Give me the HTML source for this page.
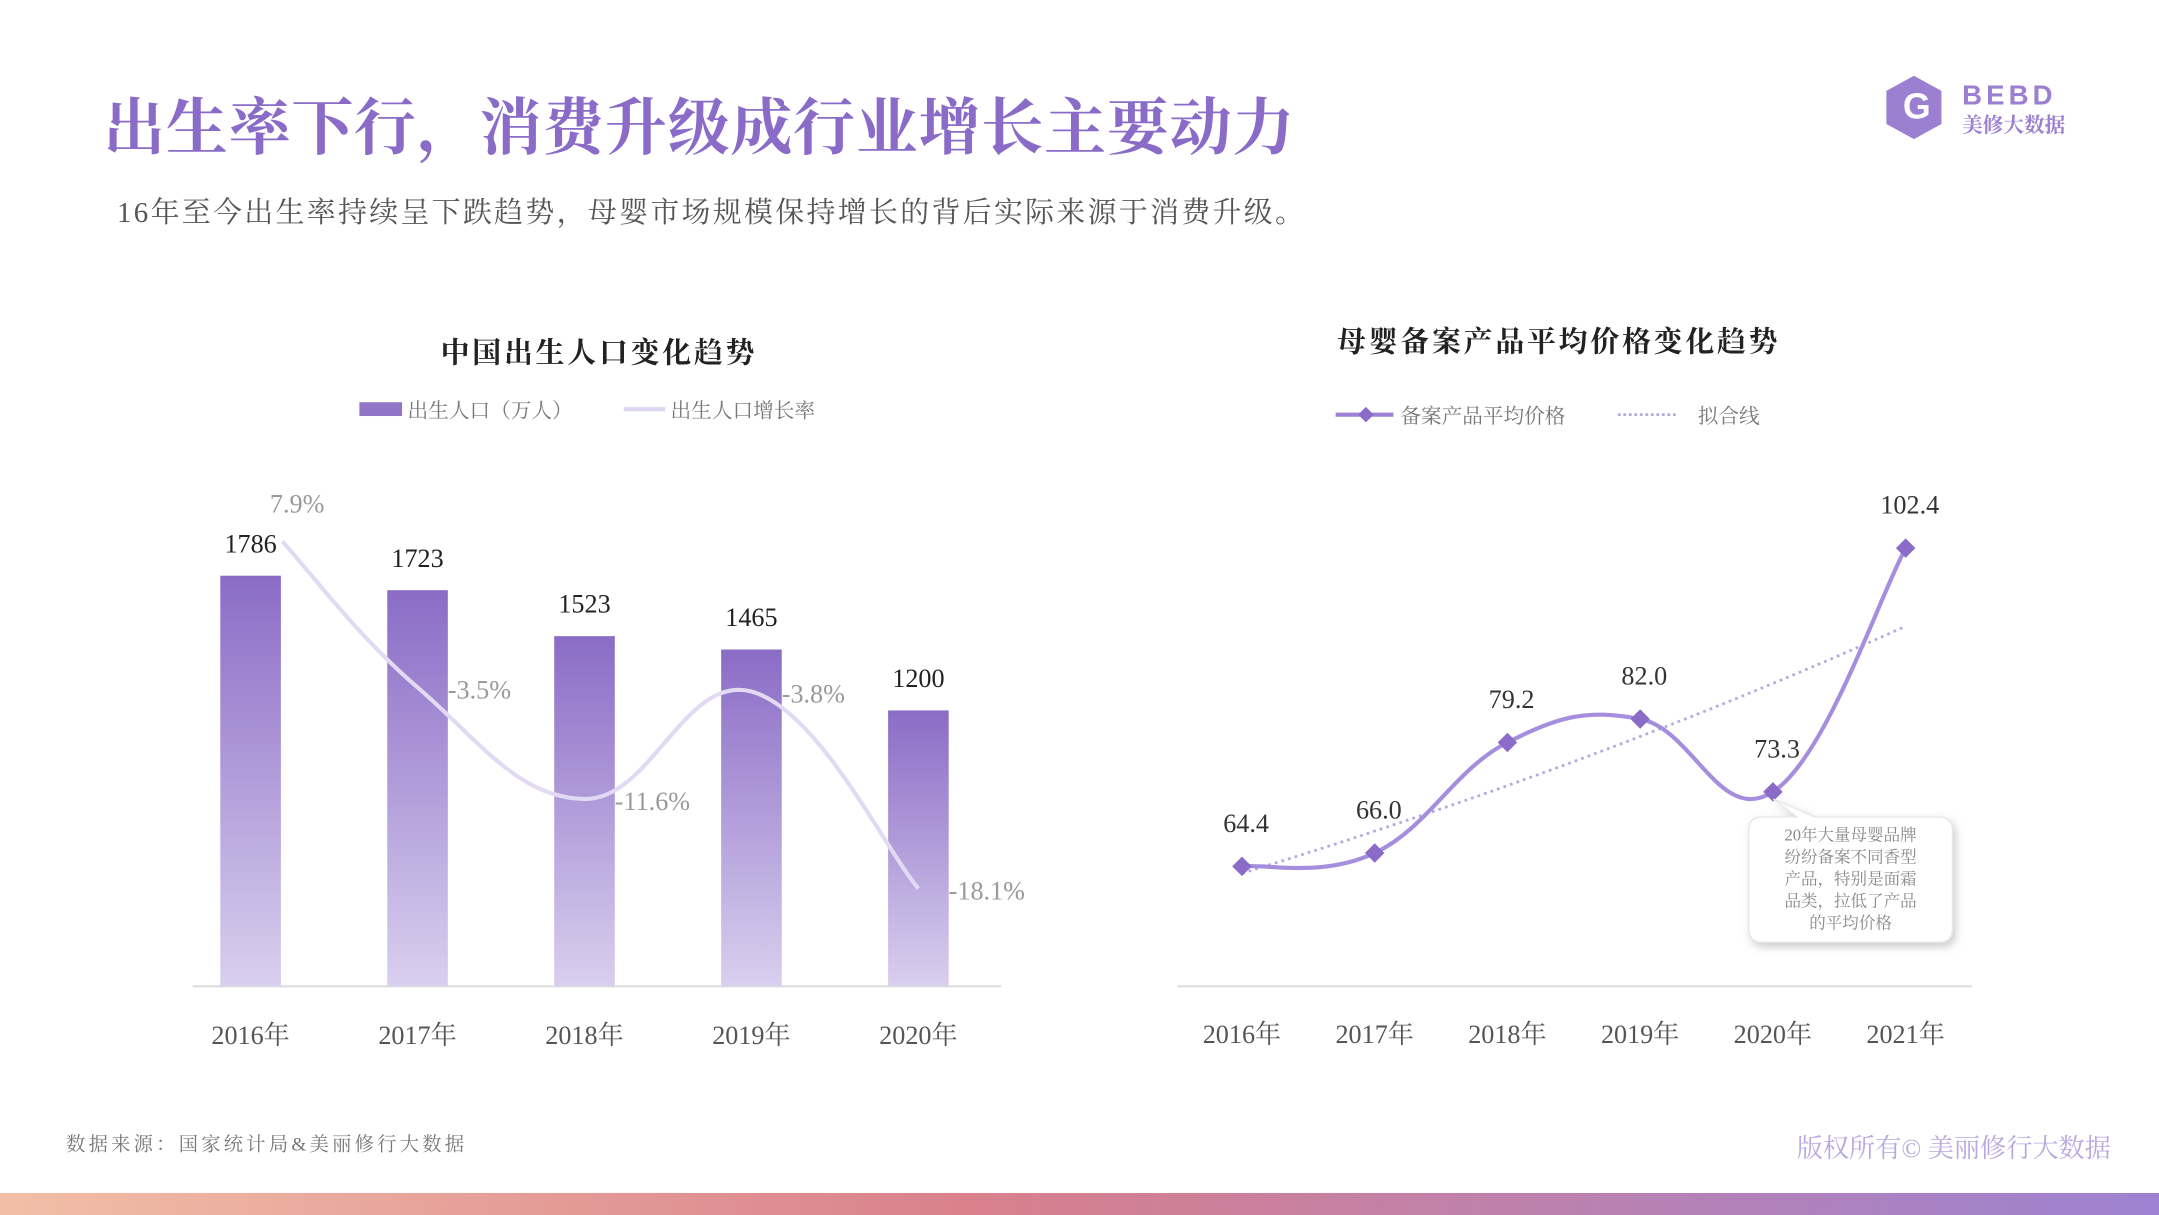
<!DOCTYPE html>
<html><head><meta charset="utf-8"><style>
html,body{margin:0;padding:0;background:#fff;}
svg{display:block;}
text{font-family:"Liberation Serif","Noto Serif CJK SC",serif;}
.sans{font-family:"Liberation Sans","Noto Sans CJK SC",sans-serif;}
</style></head><body>
<svg id="root" width="2159" height="1215" viewBox="0 0 1568 882" preserveAspectRatio="none" xmlns="http://www.w3.org/2000/svg">
<defs>
<linearGradient id="barg" x1="0" y1="0" x2="0" y2="1"><stop offset="0" stop-color="#8a6cc6"/><stop offset="1" stop-color="#d9cfee"/></linearGradient>
<linearGradient id="footg" x1="0" y1="0" x2="1" y2="0"><stop offset="0" stop-color="#f2bfa6"/><stop offset="0.45" stop-color="#d9808c"/><stop offset="1" stop-color="#9d82d2"/></linearGradient>
<filter id="sh" x="-20%" y="-20%" width="140%" height="140%"><feDropShadow dx="2" dy="3" stdDeviation="3" flood-color="#999" flood-opacity="0.5"/></filter>
</defs>
<text x="75" y="108" font-size="45" font-weight="bold" fill="#8a6cc8" textLength="865">出生率下行，消费升级成行业增长主要动力</text>
<text x="85" y="161" font-size="21" fill="#555" textLength="862">16年至今出生率持续呈下跌趋势，母婴市场规模保持增长的背后实际来源于消费升级。</text>
<g>
<polygon points="1390,55 1410,66 1410,90 1390,101 1370,90 1370,66" fill="#9b7fd0"/>
<text x="1382" y="86" font-size="26" font-weight="bold" fill="#fff" class="sans">G</text>
<text x="1425" y="76" font-size="20" font-weight="bold" fill="#9b7fd0" letter-spacing="3" class="sans">BEBD</text>
<text x="1425" y="96" font-size="15" font-weight="bold" fill="#9b7fd0">美修大数据</text>
</g>
<text x="434" y="263" font-size="21" font-weight="bold" fill="#222" text-anchor="middle" textLength="228">中国出生人口变化趋势</text>
<g>
<rect x="261" y="292" width="31" height="10" fill="#8f74c8"/>
<text x="296" y="303" font-size="15" fill="#777">出生人口（万人）</text>
<line x1="453" y1="297" x2="483" y2="297" stroke="#ddd5ef" stroke-width="3"/>
<text x="487" y="303" font-size="15" fill="#777">出生人口增长率</text>
</g>
<text x="1131" y="255" font-size="21" font-weight="bold" fill="#222" text-anchor="middle" textLength="320">母婴备案产品平均价格变化趋势</text>
<g>
<line x1="970" y1="301" x2="1012" y2="301" stroke="#9b82d6" stroke-width="3"/>
<rect x="988" y="297" width="8" height="8" fill="#8a6cc8" transform="rotate(45 992 301)"/>
<text x="1017" y="307" font-size="15" fill="#777">备案产品平均价格</text>
<line x1="1175" y1="301" x2="1217" y2="301" stroke="#b8a8e0" stroke-width="2" stroke-dasharray="2,2"/>
<text x="1233" y="307" font-size="15" fill="#777">拟合线</text>
</g>
<g id="left"></g>
<g id="right"></g>
<g filter="url(#sh)">
<path d="M1280,593 L1305,593 L1288,580 L1318,593 L1408,593 Q1418,593 1418,603 L1418,674 Q1418,684 1408,684 L1280,684 Q1270,684 1270,674 L1270,603 Q1270,593 1280,593 Z" fill="#fff" stroke="#e8e8e8"/>
</g>
<g font-size="12" fill="#888" text-anchor="middle" class="sans">
<text x="1344" y="610">20年大量母婴品牌</text>
<text x="1344" y="626">纷纷备案不同香型</text>
<text x="1344" y="642">产品，特别是面霜</text>
<text x="1344" y="658">品类，拉低了产品</text>
<text x="1344" y="674">的平均价格</text>
</g>
<text x="48" y="835" font-size="14" fill="#777" textLength="289">数据来源：国家统计局&amp;美丽修行大数据</text>
<text x="1533" y="840" font-size="19" fill="#b8a8e0" text-anchor="end">版权所有© 美丽修行大数据</text>
<rect x="0" y="866" width="1568" height="16" fill="url(#footg)"/>
</svg>
<script>
const NS="http://www.w3.org/2000/svg";
const leftYears=["2016年","2017年","2018年","2019年","2020年"];
const births=[1786,1723,1523,1465,1200];
const birthLabels=["1786","1723","1523","1465","1200"];
const rates=[7.9,-3.5,-11.6,-3.8,-18.1];
const rateLabels=["7.9%","-3.5%","-11.6%","-3.8%","-18.1%"];
const rightYears=["2016年","2017年","2018年","2019年","2020年","2021年"];
const prices=[64.4,66.0,79.2,82.0,73.3,102.4];
const priceLabels=["64.4","66.0","79.2","82.0","73.3","102.4"];

function mk(tag,attrs,parent,txt){const e=document.createElementNS(NS,tag);for(const k in attrs)e.setAttribute(k,attrs[k]);if(txt!==undefined)e.textContent=txt;parent.appendChild(e);return e;}
function smooth(pts){let d="M"+pts[0][0]+","+pts[0][1];for(let i=0;i<pts.length-1;i++){const p0=pts[Math.max(0,i-1)],p1=pts[i],p2=pts[i+1],p3=pts[Math.min(pts.length-1,i+2)];const t=0.2;d+=" C"+(p1[0]+(p2[0]-p0[0])*t)+","+(p1[1]+(p2[1]-p0[1])*t)+" "+(p2[0]-(p3[0]-p1[0])*t)+","+(p2[1]-(p3[1]-p1[1])*t)+" "+p2[0]+","+p2[1];}return d;}

// left chart
const L=document.getElementById('left');
const base=716;
const lx=i=>182+i*121.25;
const ly=v=>base-v*0.1669;
const ry=r=>464-r*10;
mk('line',{x1:140,y1:base,x2:727,y2:base,stroke:"#ddd","stroke-width":1.5},L);
births.forEach((v,i)=>{
 const b=mk('rect',{x:lx(i)-22,y:ly(v),width:44,height:base-ly(v),fill:"url(#barg)"},L);
 
 
 const t=mk('text',{x:lx(i),y:ly(v)-17,"font-size":19,fill:"#222","text-anchor":"middle"},L,birthLabels[i]);
 
 
 const xl=mk('text',{x:lx(i),y:758,"font-size":19,fill:"#555","text-anchor":"middle"},L,leftYears[i]);
 
 
});
const rpts=rates.map((r,i)=>[lx(i)+(i==0?23:0),ry(r)+(i==0?8:0)]);
const rl=mk('path',{d:smooth(rpts),fill:"none",stroke:"#e2daf2","stroke-width":3},L);


rates.forEach((r,i)=>{
 const t=mk('text',{x:lx(i)+(i==0?14:22),y:ry(r)+(i==0?-13:8),"font-size":19,fill:"#999"},L,rateLabels[i]);
 
 
});

// right chart
const R=document.getElementById('right');
const px=i=>902+i*96.4;
const py=v=>1020.5-v*6.08;
mk('line',{x1:855,y1:base,x2:1432,y2:base,stroke:"#ddd","stroke-width":1.5},R);
// exponential fit
const n=prices.length;let mx=(n-1)/2,lv=prices.map(Math.log),my=lv.reduce((a,b)=>a+b,0)/n,num=0,den=0;
lv.forEach((v,i)=>{num+=(i-mx)*(v-my);den+=(i-mx)*(i-mx);});
const sl=num/den,ic=my-sl*mx;
const fpts=[];for(let k=0;k<=50;k++){const t=k/50*(n-1);fpts.push(px(t).toFixed(1)+","+py(Math.exp(ic+sl*t)).toFixed(1));}
const fit=mk('polyline',{points:fpts.join(" "),fill:"none",stroke:"#b8a8e0","stroke-width":2,"stroke-dasharray":"2,3"},R);


const ppts=prices.map((v,i)=>[px(i),py(v)]);
const pl=mk('path',{d:smooth(ppts),fill:"none",stroke:"#a58ede","stroke-width":3},R);


prices.forEach((v,i)=>{
 const d=mk('rect',{x:px(i)-5,y:py(v)-5,width:10,height:10,fill:"#8a6cc8",transform:"rotate(45 "+px(i)+" "+py(v)+")"},R);
 
 
 const t=mk('text',{x:px(i)+3,y:py(v)-25,"font-size":19,fill:"#333","text-anchor":"middle"},R,priceLabels[i]);
 
 
 const xl=mk('text',{x:px(i),y:757,"font-size":19,fill:"#555","text-anchor":"middle"},R,rightYears[i]);
 
 
});
</script>
</body></html>
